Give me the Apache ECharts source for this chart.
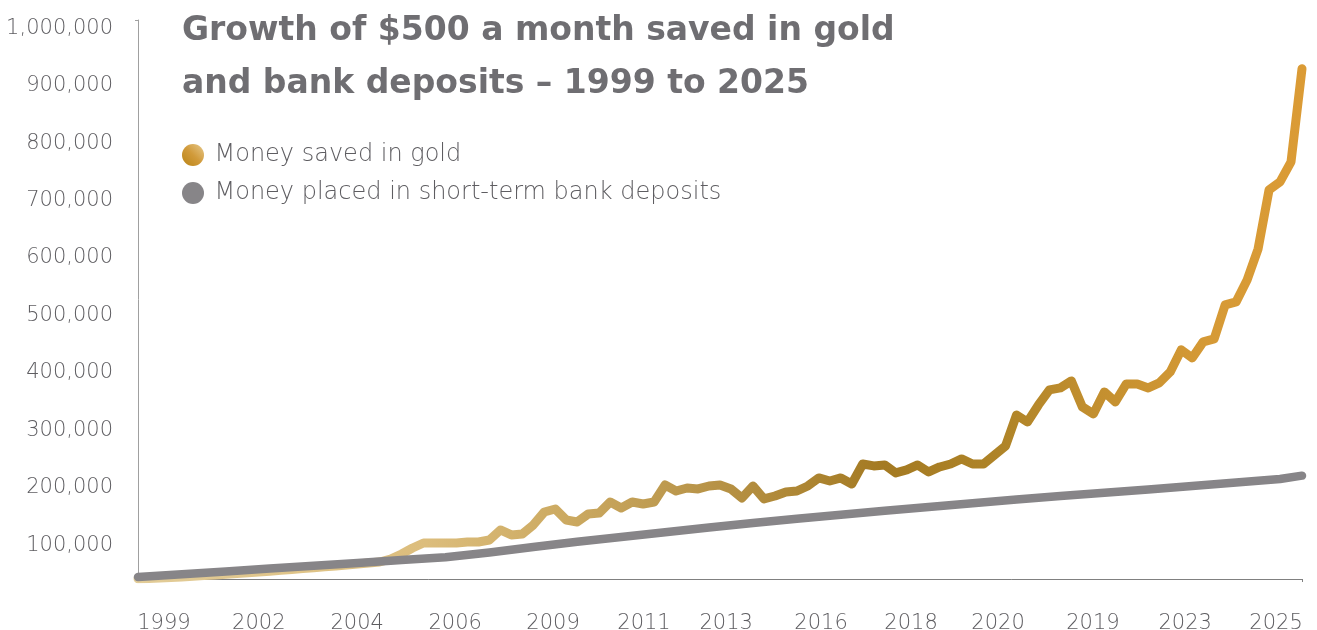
<!DOCTYPE html>
<html>
<head>
<meta charset="utf-8">
<script src="https://cdn.jsdelivr.net/npm/echarts@6/dist/echarts.min.js"></script>
<style>
html,body{margin:0;padding:0;background:#fff;}
#chart{width:1317px;height:630px;}
</style>
</head>
<body>
<div id="chart"></div>
<script>
// ---- data ----
const titleText = 'Growth of $500 a month saved in gold\nand bank deposits \u2013 1999 to 2025';
const seriesNames = ['Money saved in gold', 'Money placed in short-term bank deposits'];

// quarterly, starting 1999 Q1
const goldStart = 1999;
const goldStep = 0.25;
const goldValues = [
  38000, 38400, 39200, 40100, 41000, 42200, 43400, 44500, 45900, 47100,
  48500, 49700, 51100, 52700, 54000, 55600, 57200, 58800, 60100, 61900,
  63600, 65400, 67100, 72300, 81100, 91500, 100200, 100200, 100200, 100200,
  102000, 102000, 105400, 122900, 114200, 115900, 131600, 154200, 159400, 140300,
  136800, 150700, 152500, 171600, 161200, 171600, 168200, 171600, 201300, 190800,
  196000, 194300, 199500, 201300, 194300, 178600, 199500, 176900, 182100, 189100,
  190800, 199500, 213500, 208200, 213500, 203000, 237800, 234400, 236100, 222200,
  227400, 236100, 223900, 232600, 237800, 246600, 237800, 237800, 253500, 269200,
  323200, 311000, 340600, 366800, 370300, 382500, 337200, 325000, 363300, 345900,
  377200, 377200, 370300, 379000, 398100, 436500, 422500, 450400, 455600, 514800,
  520100, 558400, 612400, 715200, 729200, 764000, 926000
];

// yearly (plus mid-2025)
const bankYears = [1999, 2000, 2001, 2002, 2003, 2004, 2005, 2006, 2007, 2008,
  2009, 2010, 2011, 2012, 2013, 2014, 2015, 2016, 2017, 2018,
  2019, 2020, 2021, 2022, 2023, 2024, 2025, 2025.5];
const bankValues = [41000, 45900, 50700, 55800, 60700, 65500, 70400, 75300, 83700, 93200,
  102300, 110700, 119000, 127200, 135100, 142400, 149400, 156200, 162800, 169400,
  176000, 181900, 187700, 193400, 199500, 205400, 211700, 217500];

// x-axis tick labels (as printed in the source) and where they sit
const xTickLabels = ['1999', '2002', '2004', '2006', '2009', '2011', '2013', '2016', '2018', '2020', '2019', '2023', '2025'];
const xTickAt = [1999.59, 2001.75, 2003.99, 2006.22, 2008.45, 2010.52, 2012.39, 2014.55, 2016.60, 2018.58, 2020.74, 2022.84, 2024.91];
const yTicks = [100000, 200000, 300000, 400000, 500000, 600000, 700000, 800000, 900000, 1000000];
const yMin = 37500, yMax = 1011000;

// ---- chart ----
const goldData = goldValues.map((v, i) => [goldStart + i * goldStep, v]);
const bankData = bankValues.map((v, i) => [bankYears[i], v]);
const xMin = goldStart, xMax = goldStart + (goldValues.length - 1) * goldStep;

const txt = '#6f6e72';
const lightTxt = '#5e5d61';
const lightFont = '"DejaVu Sans ExtraLight", "DejaVu Sans", sans-serif';
const boldFont = '"DejaVu Sans", sans-serif';

const goldLine = new echarts.graphic.LinearGradient(0, 0, 1, 0, [
  {offset: 0.00, color: '#e2cc98'},
  {offset: 0.25, color: '#dcbd7c'},
  {offset: 0.36, color: '#cdab63'},
  {offset: 0.48, color: '#b9954a'},
  {offset: 0.64, color: '#a47a22'},
  {offset: 0.74, color: '#af8428'},
  {offset: 0.82, color: '#c38f2f'},
  {offset: 0.92, color: '#d69a36'},
  {offset: 1.00, color: '#db9b35'}
]);
const goldDot = new echarts.graphic.LinearGradient(0, 1, 1, 0, [
  {offset: 0, color: '#b98416'},
  {offset: 0.5, color: '#d19a3a'},
  {offset: 1, color: '#e6c98c'}
]);

const chart = echarts.init(document.getElementById('chart'), null, {renderer: 'canvas'});
chart.setOption({
  animation: false,
  backgroundColor: '#ffffff',
  textStyle: {fontFamily: lightFont},
  title: {
    text: titleText,
    left: 177, top: 0,
    textStyle: {fontFamily: boldFont, fontWeight: 'bold', fontSize: 33, lineHeight: 53, color: txt}
  },
  legend: {
    orient: 'vertical',
    left: 177, top: 138,
    icon: 'circle',
    itemWidth: 33, itemHeight: 22, itemGap: 14,
    textStyle: {fontFamily: lightFont, fontWeight: 200, fontSize: 24, color: lightTxt},
    data: [
      {name: seriesNames[0], itemStyle: {color: goldDot}},
      {name: seriesNames[1], itemStyle: {color: '#878588'}}
    ]
  },
  grid: {left: 138, right: 15, top: 20, bottom: 51, containLabel: false, outerBoundsMode: 'none'},
  xAxis: {
    type: 'value', min: xMin, max: xMax,
    axisLine: {show: true, onZero: false, lineStyle: {color: '#808080', width: 1}},
    axisTick: {show: true, customValues: [xMax], length: 3, lineStyle: {color: '#808080'}},
    splitLine: {show: false},
    axisLabel: {
      customValues: xTickAt,
      margin: 28,
      fontFamily: lightFont, fontWeight: 200, fontSize: 21, color: lightTxt,
      rich: {
        y: {fontFamily: lightFont, fontWeight: 200, fontSize: 21, color: lightTxt, padding: [6, 0, 0, 0]}
      },
      formatter: function (val) {
        for (let i = 0; i < xTickAt.length; i++) if (Math.abs(xTickAt[i] - val) < 1e-6) return '{y|' + xTickLabels[i] + '}';
        return '';
      }
    }
  },
  yAxis: {
    type: 'value', min: yMin, max: yMax,
    axisLine: {show: true, lineStyle: {color: '#a0a0a0', width: 1}},
    axisTick: {show: true, customValues: [yMax], length: 3, lineStyle: {color: '#a0a0a0'}},
    splitLine: {show: false},
    axisLabel: {
      customValues: yTicks,
      margin: 25,
      verticalAlign: 'top',
      lineHeight: 4,
      fontFamily: lightFont, fontWeight: 200, fontSize: 21, color: lightTxt,
      formatter: function (v) { return v.toLocaleString('en-US'); }
    }
  },
  series: [
    {
      name: seriesNames[0], type: 'line', data: goldData,
      showSymbol: false, symbol: 'none',
      itemStyle: {color: goldDot},
      lineStyle: {color: goldLine, width: 9, cap: 'round', join: 'round'},
      z: 2
    },
    {
      name: seriesNames[1], type: 'line', data: bankData,
      showSymbol: false, symbol: 'none',
      itemStyle: {color: '#878588'},
      lineStyle: {color: '#878588', width: 8.5, cap: 'round', join: 'round'},
      z: 3
    }
  ]
});
</script>
</body>
</html>
